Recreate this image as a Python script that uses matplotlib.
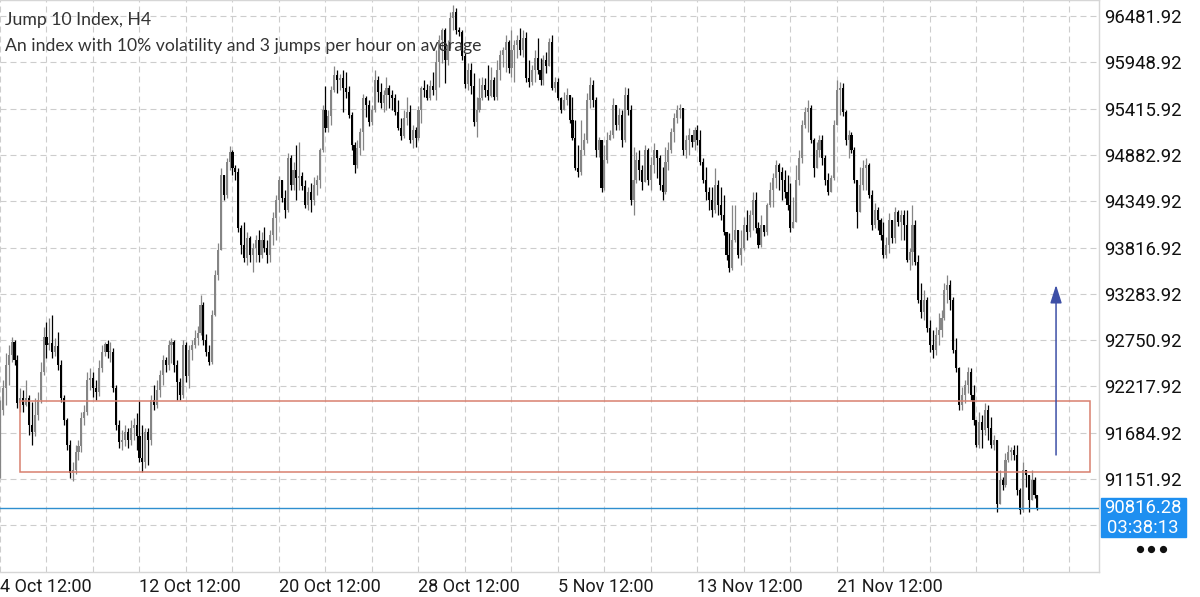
import matplotlib
matplotlib.use("Agg")
import matplotlib.pyplot as plt
from matplotlib.patches import Rectangle
from matplotlib.lines import Line2D
import numpy as np

plt.rcParams['lines.scale_dashes'] = False

# --- data (Jump 10 Index, H4 candles) ---
first_open = 91226

closes = [
    # 4 Oct .. 12 Oct
    91951, 92204, 92468, 92583, 92733, 92526, 92031, 92089, 92008, 92089,
    91778, 91698, 91893, 92066, 92388, 92790, 92698, 92721, 92618, 92687,
    92468, 92089, 91836, 91548, 91226, 91261, 91468, 91537, 91859, 91928,
    92296, 92319, 92204, 92158, 92434, 92618, 92710, 92618, 92618, 92204,
    91778, 91583, 91606, 91698, 91606, 91744,
    91778, 91652, 91399, 91353, 91698, 91606, 92066, 92008, 92181, 92353,
    92526, 92468, 92698, 92733, 92468, 92273, 92123, 92698, 92342, 92641,
    92698, 92779, 92836, 93158, 92756, 92618, 92503, 93043, 93503, 93791,
    94653, 94423, 94803, 94918, 94734, 94688, 94044, 93848, 93699, 93929,
    93733, 93814,
    93906, 93733, 93906, 93814, 93733, 93963, 94159, 94366, 94596, 94389,
    94251, 94849, 94538, 94711, 94619, 94642, 94527, 94308, 94458, 94366,
    94538, 94596, 94941, 95401, 95194, 95332, 95631, 95803, 95746, 95769,
    95654, 95608, 95343, 94998, 94768, 94964, 95148, 95539, 95458, 95263,
    95401, 95746, 95608, 95481, 95573,
    95654, 95573, 95539, 95378, 95194, 95102, 95309, 95378, 95056, 95171,
    95079, 95401, 95654, 95631, 95539, 95677, 95631, 95953, 96206, 96321,
    95976, 96148, 96459, 96528, 96321, 96298, 96022, 95700, 95861, 95677,
    95263, 95401, 95539, 95688, 95631, 95562, 95746, 95550, 95861, 96033,
    96091, 96183, 95884, 96091, 96148,
    96206, 96091, 96229, 95769, 95723, 95861, 95999, 95861, 95746, 95976,
    95907, 96183, 95654, 95723, 95539, 95401, 95516, 95573, 95286, 95079,
    94734, 94688, 94941, 95056, 95516, 95688, 95516, 94941, 95056, 94504,
    94826, 95056, 95113, 95458, 95228, 95343, 95056, 95573, 95401, 94366,
    94596, 94826, 94711, 94573,
    94941, 94596, 94768, 94941, 94849, 94538, 94458, 94803, 94941, 95148,
    95309, 95401, 95424, 94941, 95056, 95113, 95033, 95171, 95056, 94803,
    94596, 94458, 94366, 94251, 94538, 94309, 94193, 93998, 93733, 93584,
    93906, 94021, 93733, 93814, 94079, 93998, 94193, 94366, 94044, 93848,
    94079, 93998, 94309, 94481, 94619,
    94768, 94688, 94596, 94458, 94309, 94044, 94113, 94596, 94849, 95228,
    95378, 95424, 95056, 94734, 94941, 95056, 94849, 94596, 94458, 94619,
    95228, 95631, 95654, 95378, 95056, 95113, 94941, 94596, 94228, 94538,
    94734, 94768, 94423, 94079, 94251, 94136, 93963, 93733, 93848, 94136,
    93929, 94228, 94113, 94193, 94079,
    93676, 93768, 94079, 93653, 93216, 93078, 93216, 92894, 92698, 92641,
    92813, 92871, 93009, 93331, 93389, 93216, 92641, 92434, 92008, 92123,
    92238, 92388, 92123, 91836, 91548, 91813, 91721, 91951, 91744, 91548,
    91606, 90859, 91146, 91089, 91376, 91468, 91491, 91434, 91031, 90801,
    91261, 91204, 90916, 91146, 90974, 90816.28,
]

highs = [
    92066, 92296, 92606, 92698, 92790, 92756, 92583, 92204, 92181, 92296,
    92123, 92043, 92089, 92158, 92503, 92905, 92963, 93009, 93043, 92779,
    92848, 92526, 92123, 91859, 91606, 91353, 91548, 91606, 91928, 92008,
    92388, 92434, 92388, 92296, 92526, 92698, 92733, 92756, 92733, 92664,
    92238, 91836, 91721, 91778, 91744, 91836,
    91859, 91916, 92054, 91778, 91744, 91744, 92123, 92238, 92296, 92411,
    92583, 92560, 92756, 92779, 92756, 92526, 92319, 92756, 92733, 92698,
    92756, 92871, 92917, 93273, 93193, 92825, 92698, 93101, 93561, 93871,
    94734, 94596, 94849, 94987, 94941, 94768, 94734, 94078, 94113, 93998,
    93952, 93871,
    93963, 94021, 93998, 94055, 93906, 94021, 94228, 94423, 94642, 94596,
    94481, 94906, 94883, 94803, 94998, 95033, 94688, 94596, 94515, 94561,
    94630, 94653, 94964, 95458, 95677, 95401, 95677, 95907, 95861, 95815,
    95861, 95838, 95677, 95378, 95033, 95056, 95194, 95585, 95562, 95516,
    95458, 95861, 95792, 95711, 95631,
    95780, 95688, 95631, 95585, 95516, 95309, 95401, 95550, 95458, 95228,
    95205, 95447, 95677, 95746, 95700, 95746, 95838, 96091, 96263, 96344,
    96344, 96206, 96528, 96608, 96574, 96355, 96321, 96056, 95941, 95941,
    95826, 95550, 95769, 95780, 95769, 95918, 95895, 95780, 95976, 96091,
    96125, 96263, 96206, 96321, 96206,
    96263, 96344, 96321, 96298, 95976, 95918, 96091, 96229, 95999, 96033,
    96068, 96229, 96263, 95780, 95769, 95550, 95608, 95654, 95573, 95550,
    95286, 94998, 95286, 95136, 95596, 95780, 95746, 95550, 95090, 95056,
    94998, 95148, 95171, 95539, 95343, 95424, 95401, 95665, 95654, 95458,
    94975, 94918, 94941, 94768,
    94998, 94964, 94860, 95021, 94918, 94883, 94746, 94975, 95033, 95194,
    95366, 95458, 95470, 95378, 95113, 95194, 95090, 95205, 95228, 95171,
    94849, 94746, 94516, 94516, 94734, 94596, 94516, 94423, 93998, 93987,
    94309, 94309, 93963, 94021, 94171, 94251, 94251, 94458, 94458, 94113,
    94193, 94079, 94332, 94573, 94677,
    94826, 94791, 94746, 94711, 94653, 94561, 94400, 94768, 94941, 95286,
    95435, 95516, 95458, 95079, 95033, 95113, 95113, 94883, 94677, 94653,
    95286, 95746, 95723, 95711, 95401, 95171, 95148, 94975, 94596, 94746,
    94826, 94849, 94791, 94481, 94332, 94286, 94159, 94113, 93941, 94217,
    94044, 94286, 94251, 94251, 94251,
    94251, 93814, 94309, 94136, 93733, 93412, 93331, 93251, 92986, 92871,
    92905, 93067, 93101, 93412, 93503, 93446, 93251, 92779, 92446, 92216,
    92296, 92446, 92434, 92238, 91836, 91928, 91893, 92031, 92008, 91871,
    91663, 91572, 91261, 91181, 91457, 91548, 91526, 91548, 91548, 91054,
    91353, 91261, 91112, 91261, 91181, 90974,
]

lows = [
    91169, 91893, 92008, 92238, 92503, 92468, 91974, 91928, 91928, 91997,
    91663, 91548, 91652, 91836, 92031, 92353, 92549, 92641, 92549, 92572,
    92411, 92043, 91778, 91491, 91169, 91134, 91215, 91376, 91468, 91778,
    91893, 92181, 92100, 92066, 92112, 92388, 92572, 92549, 92503, 92158,
    91721, 91514, 91491, 91537, 91514, 91548,
    91606, 91491, 91353, 91238, 91284, 91318, 91548, 91951, 91974, 92100,
    92238, 92388, 92411, 92491, 92388, 92066, 92066, 92089, 92273, 92204,
    92526, 92664, 92698, 92813, 92698, 92572, 92468, 92480, 93032, 93446,
    93791, 94366, 94389, 94711, 94653, 94596, 93998, 93745, 93653, 93618,
    93653, 93538,
    93653, 93653, 93699, 93768, 93641, 93653, 93848, 93906, 94228, 94343,
    94159, 94228, 94481, 94481, 94366, 94481, 94481, 94274, 94251, 94228,
    94308, 94423, 94504, 94918, 95148, 95148, 95228, 95608, 95596, 95631,
    95378, 95539, 95309, 94941, 94676, 94734, 94883, 94941, 95320, 95217,
    95228, 95378, 95493, 95424, 95378,
    95401, 95424, 95401, 95343, 95171, 95056, 95079, 95228, 95021, 94964,
    94975, 95056, 95251, 95550, 95516, 95516, 95573, 95516, 95665, 95941,
    95711, 95918, 96114, 96321, 96275, 96252, 95976, 95654, 95631, 95585,
    95217, 95090, 95378, 95516, 95550, 95516, 95550, 95516, 95516, 95746,
    95895, 95838, 95826, 95780, 95723,
    95999, 96033, 96010, 95723, 95666, 95688, 95723, 95815, 95688, 95688,
    95826, 95953, 95631, 95608, 95516, 95366, 95401, 95458, 95251, 95056,
    94711, 94630, 94653, 94883, 95021, 95424, 95435, 94860, 94860, 94458,
    94481, 94791, 95056, 95079, 95171, 95171, 94975, 95033, 95343, 94308,
    94193, 94561, 94596, 94481,
    94619, 94538, 94481, 94676, 94619, 94481, 94366, 94435, 94711, 94906,
    95033, 95251, 95309, 94883, 94849, 94883, 94975, 94941, 94998, 94768,
    94561, 94366, 94251, 94171, 94217, 94193, 94136, 93963, 93676, 93538,
    93561, 93883, 93699, 93618, 93791, 93906, 93941, 94021, 93987, 93814,
    93826, 93952, 93963, 94286, 94286,
    94504, 94481, 94366, 94389, 94251, 93998, 94044, 94228, 94538, 94791,
    95194, 95148, 95021, 94630, 94746, 94860, 94768, 94538, 94423, 94573,
    94596, 95228, 95343, 95332, 94998, 94849, 94906, 94561, 94044, 94458,
    94481, 94481, 94389, 94021, 94044, 94021, 93906, 93699, 93699, 93756,
    93871, 93871, 94067, 93906, 93906,
    93653, 93561, 93618, 93618, 93182, 93009, 92986, 92848, 92618, 92549,
    92583, 92698, 92790, 92986, 93182, 93101, 92606, 92388, 91951, 91951,
    92031, 92147, 92066, 91778, 91526, 91514, 91514, 91663, 91606, 91514,
    91491, 90767, 90916, 91031, 91066, 91353, 91376, 91376, 90974, 90755,
    90767, 91066, 90767, 90939, 90939, 90801,
]

tick_labels = ['4 Oct 12:00', '12 Oct 12:00', '20 Oct 12:00', '28 Oct 12:00',
               '5 Nov 12:00', '13 Nov 12:00', '21 Nov 12:00']
price_levels = [96481.92, 95948.92, 95415.92, 94882.92, 94349.92, 93816.92,
                93283.92, 92750.92, 92217.92, 91684.92, 91151.92, 90618.92]
last_price = 90816.28
zone_low, zone_high = 91237, 92054
arrow_from, arrow_to = 91429, 93386

# --- figure ---
fig = plt.figure(figsize=(12, 5.97), dpi=100)
ax = fig.add_axes([0, 25 / 597, 1099 / 1200, 572 / 597])

closes = np.array(closes, dtype=float)
opens = np.concatenate([[first_open], closes[:-1]])
highs = np.maximum(np.array(highs, dtype=float), np.maximum(opens, closes))
lows = np.minimum(np.array(lows, dtype=float), np.minimum(opens, closes))
idx = np.arange(len(closes))

up = closes >= opens
colors = np.where(up, '#858585', '#000000')

ax.vlines(idx, lows, highs, colors=colors, linewidth=0.9, zorder=3)
body_lo = np.minimum(opens, closes)
body_h = np.maximum(np.abs(closes - opens), 10)
ax.bar(idx, body_h, bottom=body_lo, width=0.72, color=colors, linewidth=0, zorder=4)

# grid
ax.set_xlim(0, 1099 / 2.906)
ax.set_ylim(90082, 96666)
dash = (0, (4.3, 2.9))
for k in range(0, 24):
    ax.axvline(16 * k, color='#cdcdcd', lw=0.8, ls=dash, zorder=1)
for p in price_levels:
    ax.axhline(p, color='#cdcdcd', lw=0.8, ls=dash, zorder=1)

# x labels (left aligned at tick)
ax.set_xticks([48 * i for i in range(len(tick_labels))])
ax.set_xticklabels(tick_labels, ha='left', fontsize=13, family='Roboto', color='#1a1a1a')
ax.tick_params(axis='x', length=0, pad=4)

# y labels on the right
ax.yaxis.tick_right()
ax.set_yticks(price_levels)
ax.set_yticklabels(['%.2f' % p for p in price_levels[:-1]] + [''],
                   fontsize=13.3, family='Roboto', color='#111111')
ax.tick_params(axis='y', length=0, pad=4)

for s in ['left']:
    ax.spines[s].set_visible(False)
for s in ['right', 'bottom', 'top']:
    ax.spines[s].set_color('#d6d6d6')
    ax.spines[s].set_linewidth(1)

# zone rectangle
ax.add_patch(Rectangle((6.9, zone_low), 375 - 6.9, zone_high - zone_low,
                       fill=False, edgecolor='#d8806f', lw=1.1, zorder=5, clip_on=False))

# current price line
ax.axhline(last_price, color='#2f8fcf', lw=1.0, zorder=5)

# arrow
ax.annotate('', xy=(363.4, arrow_to), xytext=(363.4, arrow_from),
            arrowprops=dict(arrowstyle='-|>,head_length=1.1,head_width=0.35',
                            color='#3d4fa6', lw=1.1, shrinkA=0, shrinkB=0),
            zorder=6)

# title
fig.text(5 / 1200, 1 - 20 / 597, 'Jump 10 Index, H4', fontsize=12.7, family='Lato',
         color='#333333', va='center', ha='left')
fig.text(5 / 1200, 1 - 46 / 597, 'An index with 10% volatility and 3 jumps per hour on average',
         fontsize=12.7, family='Lato', color='#333333', va='center', ha='left')

# last price box
fig.patches.append(Rectangle((1101 / 1200, 1 - 537 / 597), 85 / 1200, 39 / 597,
                             transform=fig.transFigure, color='#1e8ff0', zorder=10))
fig.text(1143 / 1200, 1 - 508 / 597, '90816.28', fontsize=13.3, family='Roboto',
         color='white', ha='center', va='center', zorder=11)
fig.text(1143 / 1200, 1 - 528 / 597, '03:38:13', fontsize=13.3, family='Roboto',
         color='white', ha='center', va='center', zorder=11)

# dots
fig.add_artist(Line2D([1140 / 1200, 1151 / 1200, 1163 / 1200], [1 - 549 / 597] * 3,
                      transform=fig.transFigure, marker='o', markersize=4.2,
                      linestyle='none', color='#111111'))

fig.savefig('out.png', dpi=100)
